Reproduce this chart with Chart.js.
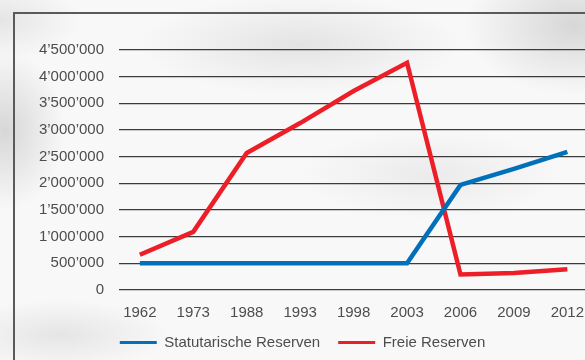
<!DOCTYPE html>
<html>
<head>
<meta charset="utf-8">
<script src="https://cdn.jsdelivr.net/npm/chart.js@4"></script>
<style>
  html, body { margin: 0; padding: 0; }
  body {
    width: 585px; height: 360px; overflow: hidden; position: relative;
    background:
      radial-gradient(ellipse 160px 50px at 300px 45px, rgba(180,180,180,0.3), rgba(180,180,180,0) 100%),
      radial-gradient(ellipse 110px 70px at 575px 25px, rgba(165,165,165,0.4), rgba(165,165,165,0) 100%),
      radial-gradient(ellipse 60px 80px at 5px 130px, rgba(175,175,175,0.45), rgba(175,175,175,0) 100%),
      radial-gradient(ellipse 130px 45px at 430px 175px, rgba(195,195,195,0.25), rgba(195,195,195,0) 100%),
      radial-gradient(ellipse 110px 35px at 60px 335px, rgba(185,185,185,0.3), rgba(185,185,185,0) 100%),
      radial-gradient(ellipse 80px 40px at 0px 20px, rgba(185,185,185,0.3), rgba(185,185,185,0) 100%),
      #f8f8f8;
  }
  #frame {
    position: absolute; left: 13px; top: 12px; width: 600px; height: 400px;
    border-left: 2px solid #5a5a5a; border-top: 2px solid #5a5a5a;
  }
  #wrap { position: absolute; left: 0; top: 0; width: 585px; height: 360px; }
</style>
</head>
<body>
<div id="frame"></div>
<div id="wrap"><canvas id="myChart"></canvas></div>
<script>
var years = ["1962", "1973", "1988", "1993", "1998", "2003", "2006", "2009", "2012"];
var statutarisch = [500000, 500000, 500000, 500000, 500000, 500000, 1970000, 2270000, 2590000];
var frei = [660000, 1090000, 2570000, 3130000, 3730000, 4260000, 290000, 320000, 390000];
var yTicks = [0, 500000, 1000000, 1500000, 2000000, 2500000, 3000000, 3500000, 4000000, 4500000];

function toPoints(values) {
    return values.map(function (v, i) { return { x: i, y: v }; });
}

function formatNumber(v) {
    return String(v).replace(/\B(?=(\d{3})+(?!\d))/g, '\u2019');
}

var textColor = '#4d4d4d';
var font = { family: "'Liberation Sans', Arial, sans-serif", size: 15 };

var ctx = document.getElementById("myChart");
var myChart = new Chart(ctx, {
    type: 'line',
    data: {
        datasets: [{
            label: 'Statutarische Reserven',
            data: toPoints(statutarisch),
            borderColor: 'rgb(0, 112, 187)',
            backgroundColor: 'rgb(0, 112, 187)',
            borderWidth: 4.5,
            pointRadius: 0,
            tension: 0
        }, {
            label: 'Freie Reserven',
            data: toPoints(frei),
            borderColor: 'rgb(236, 30, 40)',
            backgroundColor: 'rgb(236, 30, 40)',
            borderWidth: 4.5,
            pointRadius: 0,
            tension: 0
        }]
    },
    options: {
        responsive: true,
        maintainAspectRatio: false,
        animation: false,
        layout: {
            padding: { top: 50, left: 20, right: 0, bottom: 0 }
        },
        plugins: {
            tooltip: { enabled: false },
            legend: {
                position: 'bottom',
                align: 'center',
                labels: {
                    boxWidth: 37,
                    boxHeight: 3,
                    padding: 18,
                    color: textColor,
                    font: font,
                    generateLabels: function (chart) {
                        var items = Chart.defaults.plugins.legend.labels.generateLabels(chart);
                        items.forEach(function (item) { item.lineWidth = 0; });
                        return items;
                    }
                }
            }
        },
        scales: {
            x: {
                type: 'linear',
                min: -0.39,
                max: 8.33,
                afterBuildTicks: function (scale) {
                    scale.ticks = years.map(function (_, i) { return { value: i }; });
                },
                afterFit: function (scale) {
                    // let the grid run to the right edge; the last label may overhang
                    scale.height = 27;
                    scale.paddingLeft = 0;
                    scale.paddingRight = 0;
                },
                ticks: {
                    color: textColor,
                    font: font,
                    padding: 14,
                    maxRotation: 0,
                    autoSkip: false,
                    callback: function (value) { return years[value]; }
                },
                grid: { display: false, drawTicks: false },
                border: { display: false }
            },
            y: {
                min: 0,
                max: 4500000,
                afterBuildTicks: function (scale) {
                    scale.ticks = yTicks.map(function (v) { return { value: v }; });
                },
                afterFit: function (scale) {
                    scale.width = 99;
                },
                ticks: {
                    color: textColor,
                    font: font,
                    padding: 15,
                    callback: function (value) { return formatNumber(value); }
                },
                grid: { color: '#3c3c3c', lineWidth: 1.2, drawTicks: false },
                border: { display: false }
            }
        }
    }
});
</script>
</body>
</html>
